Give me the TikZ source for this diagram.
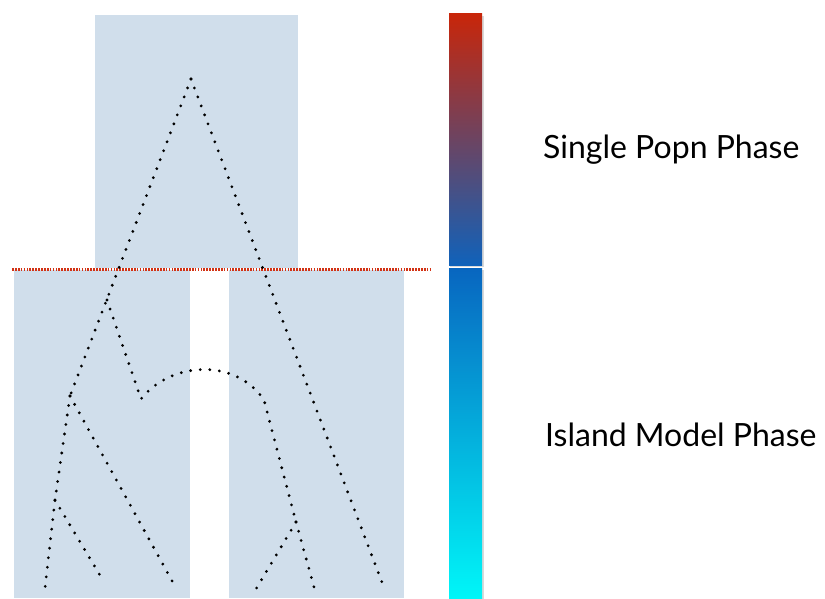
\documentclass[tikz,border=0pt]{standalone}
\usepackage{fontspec}
\setmainfont{Lato}
\usetikzlibrary{shadings}
\definecolor{panel}{RGB}{208,222,235}
\definecolor{splitred}{RGB}{210,50,20}
\definecolor{barred}{RGB}{200,38,10}
\definecolor{barblue}{RGB}{16,98,186}
\definecolor{bartop}{RGB}{8,102,192}
\definecolor{barcyan}{RGB}{0,246,248}
\tikzset{
  panelbox/.style={fill=panel, draw=none},
  lineage/.style={line width=3.1pt, line cap=round, dash pattern=on 0pt off 9.6pt, black},
  splitline/.style={line width=2.4pt, dash pattern=on 1.7pt off 1.2pt, splitred},
  barshadow/.style={fill=black!15, draw=none},
  phaselabel/.style={anchor=base west, inner sep=0pt, font=\fontsize{32}{38}\selectfont},
}
\begin{document}
\begin{tikzpicture}[x=1pt, y=-1pt]
\useasboundingbox (0,0) rectangle (825,599);

% background panels: ancestral population and the two islands
\fill[panelbox] (95,15) rectangle (298,268);
\fill[panelbox] (14,270) rectangle (190,598);
\fill[panelbox] (229,270) rectangle (404,598);

% split time
\coordinate (splitL) at (12,269.3);
\coordinate (splitR) at (432,269.3);
\draw[splitline] (splitL) -- (splitR);

% genealogy nodes
\coordinate (root) at (191,79);
\coordinate (a) at (70,396);
\coordinate (b) at (107,300);
\coordinate (c) at (55,500);
\coordinate (d) at (141,399);
\coordinate (e) at (264,400);
\coordinate (f) at (296,522);
\coordinate (l1) at (45,588);
\coordinate (l2) at (104,582);
\coordinate (l3) at (176,588);
\coordinate (l4) at (256,589);
\coordinate (l5) at (314,587);
\coordinate (l6) at (383,585);

% lineages
\draw[lineage] (root) -- (a);
\draw[lineage] (root) -- (l6);
\draw[lineage] (a) -- (c) -- (l1);
\draw[lineage] (c) -- (l2);
\draw[lineage] (a) -- (l3);
\draw[lineage] (b) -- (d) .. controls (170,362) and (235,357) .. (e) -- (f);
\draw[lineage] (f) -- (l4);
\draw[lineage] (f) -- (l5);

% time colour bar
\fill[barshadow] (450,16) rectangle (483.5,266.5);
\fill[barshadow] (450,270) rectangle (483.5,599);
\shade[top color=barred, bottom color=barblue] (449,14) rectangle (482,265);
\shade[top color=bartop, bottom color=barcyan] (449,268.3) rectangle (482,598);

% phase labels
\node[phaselabel] (single) at (543,159) {Single Popn Phase};
\node[phaselabel] (island) at (545,446.7) {Island Model Phase};
\end{tikzpicture}
\end{document}
